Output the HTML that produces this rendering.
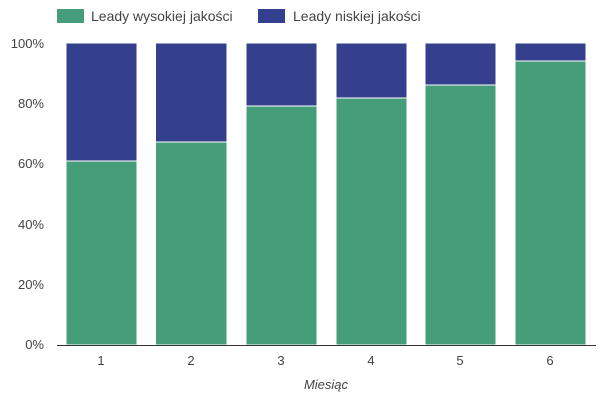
<!DOCTYPE html>
<html><head><meta charset="utf-8"><style>body{margin:0;background:#fff}svg{display:block}text{font-family:"Liberation Sans",sans-serif;fill:#444}</style></head><body>
<svg width="600" height="403" viewBox="0 0 600 403">
<rect x="57" y="9" width="27" height="14" fill="#459d7a"/>
<text x="91" y="21" font-size="14">Leady wysokiej jakości</text>
<rect x="258" y="9" width="27" height="14" fill="#343f8e"/>
<text x="293" y="21" font-size="14">Leady niskiej jakości</text>
<g font-size="13" text-anchor="end">
<text x="44" y="48">100%</text><text x="44" y="108">80%</text><text x="44" y="168">60%</text>
<text x="44" y="229">40%</text><text x="44" y="289">20%</text><text x="44" y="349">0%</text>
</g>
<g stroke="#fff" stroke-width="1">
<rect x="66" y="43" width="71" height="302" fill="#343f8e"/><rect x="66" y="161" width="71" height="184" fill="#459d7a"/>
<rect x="155.5" y="43" width="71.5" height="302" fill="#343f8e"/><rect x="155.5" y="142" width="71.5" height="203" fill="#459d7a"/>
<rect x="246" y="43" width="71" height="302" fill="#343f8e"/><rect x="246" y="106" width="71" height="239" fill="#459d7a"/>
<rect x="336" y="43" width="71" height="302" fill="#343f8e"/><rect x="336" y="98" width="71" height="247" fill="#459d7a"/>
<rect x="425" y="43" width="71" height="302" fill="#343f8e"/><rect x="425" y="85" width="71" height="260" fill="#459d7a"/>
<rect x="515" y="43" width="71" height="302" fill="#343f8e"/><rect x="515" y="61" width="71" height="284" fill="#459d7a"/>
</g>
<line x1="57" y1="345.5" x2="596" y2="345.5" stroke="#333" stroke-width="1"/>
<g font-size="13" text-anchor="middle">
<text x="101" y="365">1</text><text x="191" y="365">2</text><text x="281" y="365">3</text>
<text x="371" y="365">4</text><text x="460" y="365">5</text><text x="550" y="365">6</text>
<text x="326" y="389" font-style="italic">Miesiąc</text>
</g>
</svg>
</body></html>
